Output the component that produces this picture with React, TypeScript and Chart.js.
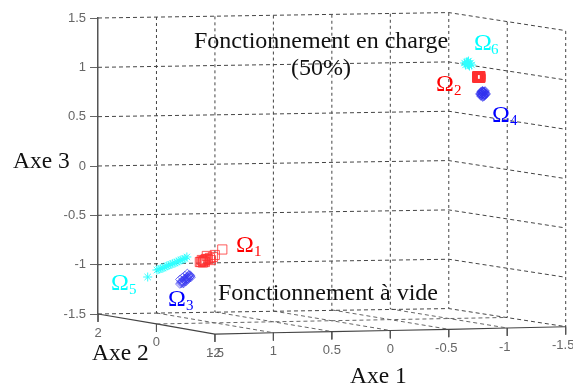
import React, { useEffect, useRef } from "react";
import { Chart, registerables } from "chart.js";

Chart.register(...registerables);

// Axe 1 and Axe 3 values as read from the oblique 3D view
const omega1X = [1.437, 1.501, 1.518, 1.543, 1.569, 1.535, 1.56, 1.586, 1.595, 1.603, 1.62, 1.612, 1.629, 1.586, 1.603, 1.578];
const omega1Y = [-0.846, -0.902, -0.922, -0.932, -0.912, -0.953, -0.943, -0.953, -0.963, -0.963, -0.973, -0.953, -0.973, -0.973, -0.978, -0.943];

const omega2X = [-0.737, -0.737, -0.737, -0.746, -0.746, -0.754, -0.754, -0.754, -0.763, -0.763, -0.763, -0.771, -0.771, -0.771, -0.776, -0.776, -0.776, -0.746, -0.737, -0.763];
const omega2Y = [0.917, 0.907, 0.887, 0.917, 0.897, 0.917, 0.907, 0.887, 0.917, 0.897, 0.887, 0.917, 0.907, 0.897, 0.917, 0.897, 0.887, 0.887, 0.897, 0.907];

const omega3X = [1.8, 1.791, 1.787, 1.782, 1.774, 1.774, 1.765, 1.761, 1.757, 1.748, 1.748, 1.74, 1.736, 1.731, 1.727, 1.723, 1.714, 1.714, 1.706, 1.723, 1.769, 1.748, 1.727, 1.706, 1.8, 1.778, 1.757, 1.736];
const omega3Y = [-1.196, -1.176, -1.191, -1.166, -1.171, -1.186, -1.155, -1.171, -1.145, -1.155, -1.135, -1.145, -1.125, -1.14, -1.115, -1.13, -1.105, -1.125, -1.115, -1.105, -1.191, -1.171, -1.145, -1.13, -1.15, -1.13, -1.11, -1.089];

const omega4X = [-0.767, -0.776, -0.776, -0.784, -0.784, -0.793, -0.793, -0.793, -0.801, -0.801, -0.81, -0.81, -0.819, -0.784, -0.801, -0.776, -0.81, -0.793];
const omega4Y = [0.73, 0.75, 0.709, 0.76, 0.72, 0.76, 0.73, 0.699, 0.75, 0.709, 0.74, 0.72, 0.73, 0.74, 0.72, 0.73, 0.76, 0.75];

const omega5X = [2.075, 1.996, 1.979, 1.962, 1.945, 1.928, 1.911, 1.894, 1.877, 1.86, 1.842, 1.825, 1.808, 1.791, 1.774, 1.757, 1.74];
const omega5Y = [-1.125, -1.054, -1.049, -1.039, -1.034, -1.024, -1.013, -1.008, -0.998, -0.988, -0.983, -0.973, -0.963, -0.953, -0.948, -0.937, -0.922];

const omega6X = [-0.635, -0.643, -0.652, -0.66, -0.669, -0.677, -0.686, -0.695, -0.66, -0.669];
const omega6Y = [1.044, 1.024, 1.054, 1.034, 1.064, 1.013, 1.044, 1.024, 1.054, 1.024];

// Frame of the 3D box
const zLevels = [1.5, 1, 0.5, 0, -0.5, -1, -1.5];
const wallX = [2.5, -0.5, -1.5];
const wallLift = [0, 0.055, -0.128];
const verticalX = [2, 1.5, 1, 0.5, 0, -0.5, -1, -1.5];
const verticalTop = [1.51, 1.517, 1.525, 1.533, 1.543, 1.551, 1.459, 1.368];
const verticalBottom = [-1.49, -1.48, -1.47, -1.459, -1.449, -1.439, -1.535, -1.632];
const floorBackX = [2, 1.5, 1, 0.5, 0];
const floorBackY = [-1.49, -1.48, -1.47, -1.459, -1.449];
const floorFrontX = [1, 0.5, 0, -0.5, -1];
const floorFrontY = [-1.69, -1.678, -1.667, -1.655, -1.642];
const floorMidX = [2, -1];
const floorMidY = [-1.601, -1.535];

const edgeX = [2.5, 2, 1.5, 1, 0.5, 0, -0.5, -1, -1.5];
const edgeY = [-1.5, -1.601, -1.703, -1.69, -1.678, -1.667, -1.655, -1.642, -1.629];
const edgeLabels = [["2"], ["0"], ["1.5", "-2"], ["1"], ["0.5"], ["0"], ["-0.5"], ["-1"], ["-1.5"]];

const omegaLabels = [
  { sub: "1", color: "#ff0000", x: 236, y: 252, subX: 254, subY: 255.5 },
  { sub: "2", color: "#ff0000", x: 436, y: 90.5, subX: 454, subY: 95 },
  { sub: "3", color: "#0000ff", x: 168, y: 306, subX: 186, subY: 310 },
  { sub: "4", color: "#0000ff", x: 492, y: 121.5, subX: 510, subY: 125 },
  { sub: "5", color: "#00ffff", x: 111, y: 289.5, subX: 129, subY: 293.5 },
  { sub: "6", color: "#00ffff", x: 474, y: 50, subX: 491, subY: 53.5 },
];

const notes = [
  { text: "Fonctionnement en charge", x: 194, y: 48, size: 24 },
  { text: "(50%)", x: 291, y: 75, size: 24 },
  { text: "Fonctionnement à vide", x: 218, y: 299.5, size: 24 },
  { text: "Axe 3", x: 13, y: 167.5, size: 23.5 },
  { text: "Axe 2", x: 92, y: 360, size: 23.5 },
  { text: "Axe 1", x: 350, y: 383, size: 23.5 },
];

const pts = (xs: number[], ys: number[]) => xs.map((x, i) => ({ x, y: ys[i] }));

const frameLine = (data: { x: number; y: number }[], color: string, dash: number[], width = 1) => ({
  data,
  showLine: true,
  borderColor: color,
  borderWidth: width,
  borderDash: dash,
  pointRadius: 0,
  clip: false,
  order: 10,
  fill: false,
});

const markers = (xs: number[], ys: number[], style: string, color: string, radius: number, width: number) => ({
  data: pts(xs, ys),
  showLine: false,
  pointStyle: style,
  pointRadius: radius,
  pointBorderColor: color,
  pointBackgroundColor: "transparent",
  pointBorderWidth: width,
  clip: false,
  order: 1,
});

const textPlugin = {
  id: "textLayer",
  afterDatasetsDraw(chart: any) {
    const { ctx, scales } = chart;
    ctx.save();
    ctx.textBaseline = "alphabetic";
    ctx.fillStyle = "#666666";
    ctx.font = '13px "Liberation Sans"';
    ctx.textAlign = "center";
    edgeLabels.forEach((labels, i) => {
      labels.forEach((label) => {
        const px = scales.x.getPixelForValue(edgeX[i]);
        const py = scales.y.getPixelForValue(edgeY[i]) + 22.5;
        ctx.fillText(label, label.startsWith("-") && label !== "-2" ? px - 2.5 : px, py);
      });
    });
    ctx.textAlign = "left";
    ctx.fillStyle = "#111111";
    notes.forEach((n) => {
      ctx.font = `${n.size}px "Liberation Serif"`;
      ctx.fillText(n.text, n.x, n.y);
    });
    omegaLabels.forEach((o) => {
      ctx.fillStyle = o.color;
      ctx.font = '24px "Liberation Serif"';
      ctx.fillText("Ω", o.x, o.y);
      ctx.font = '15px "Liberation Serif"';
      ctx.fillText(o.sub, o.subX, o.subY);
    });
    ctx.restore();
  },
};

export default function App() {
  const ref = useRef<HTMLCanvasElement>(null);
  useEffect(() => {
    document.body.style.margin = "0";
    const dash = [4, 3];
    const wallLines = zLevels.map((z) =>
      frameLine(wallX.map((x, i) => ({ x, y: z + wallLift[i] })), "#444444", dash)
    );
    const verticals = verticalX.map((x, i) =>
      frameLine([{ x, y: verticalTop[i] }, { x, y: verticalBottom[i] }], "#444444", [3, 3])
    );
    const floorLines = floorBackX.map((x, i) =>
      frameLine([{ x, y: floorBackY[i] }, { x: floorFrontX[i], y: floorFrontY[i] }], "#666666", dash)
    );
    const floorMid = frameLine(pts(floorMidX, floorMidY), "#666666", dash);
    const frontEdge = frameLine(pts(edgeX, edgeY), "#444444", [], 1.2);
    const edgeTicks = edgeX.map((x, i) =>
      frameLine([{ x, y: edgeY[i] }, { x, y: edgeY[i] - 0.08 }], "#555555", [])
    );
    const chart = new Chart(ref.current as HTMLCanvasElement, {
      type: "scatter",
      data: {
        datasets: [
          markers(omega1X, omega1Y, "rect", "#ff3030", 6.5, 0.8),
          markers(omega2X, omega2Y, "rect", "#ff3030", 5.6, 1),
          markers(omega3X, omega3Y, "rectRot", "#3a3af0", 4.3, 0.7),
          markers(omega4X, omega4Y, "rectRot", "#3030ee", 4.3, 1),
          markers(omega5X, omega5Y, "star", "#30ffff", 4.5, 1),
          markers(omega6X, omega6Y, "star", "#30ffff", 4.5, 1),
          ...wallLines,
          ...verticals,
          ...floorLines,
          floorMid,
          frontEdge,
          ...edgeTicks,
        ] as any,
      },
      options: {
        responsive: false,
        animation: false,
        layout: { padding: { top: 18, bottom: 73, left: 0, right: 0 } },
        plugins: { legend: { display: false }, tooltip: { enabled: false }, title: { display: false } },
        scales: {
          x: { display: false, type: "linear", min: -1.5, max: 2.5, reverse: true },
          y: {
            type: "linear",
            min: -1.5,
            max: 1.5,
            afterFit: (s: any) => {
              s.width = 98;
            },
            border: { display: true, color: "#555555", width: 1.5 },
            grid: { drawOnChartArea: false, drawTicks: true, tickLength: 8, color: "#666666" },
            ticks: {
              stepSize: 0.5,
              padding: 4,
              color: "#666666",
              font: { family: "Liberation Sans", size: 13 },
              callback: (v: any) => String(v),
            },
          },
        },
      } as any,
      plugins: [textPlugin],
    });
    return () => chart.destroy();
  }, []);
  return <canvas ref={ref} width={573} height={387} style={{ display: "block" }} />;
}
